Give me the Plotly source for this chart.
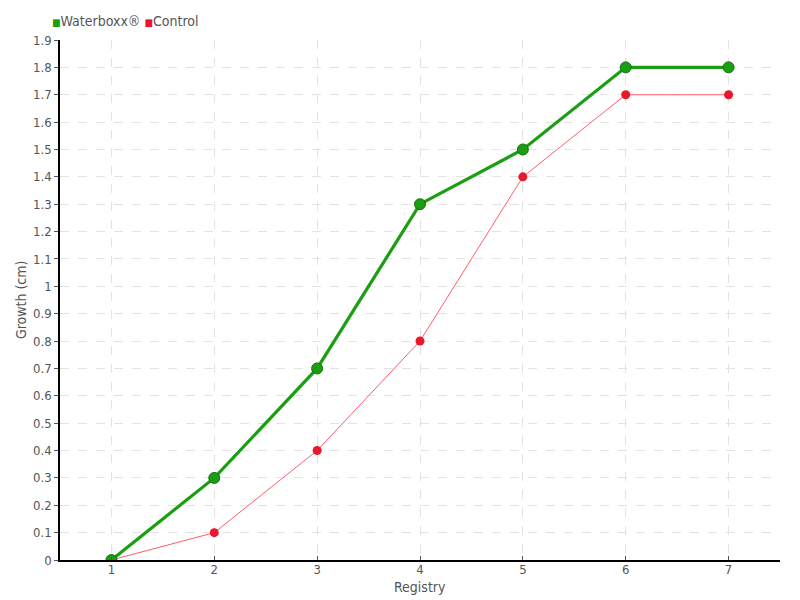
import plotly.graph_objects as go

registry = [1, 2, 3, 4, 5, 6, 7]
waterboxx = [0, 0.3, 0.7, 1.3, 1.5, 1.8, 1.8]
control = [0, 0.1, 0.4, 0.8, 1.4, 1.7, 1.7]
y_ticks = [round(i * 0.1, 1) for i in range(20)]
y_labels = [f"{v:g}" for v in y_ticks]

green = "#1a9e12"
red = "#e8192c"
grey = "#555555"
font = "Liberation Sans Narrow, DejaVu Sans Condensed, sans-serif"

fig = go.Figure()

fig.add_trace(go.Scatter(
    x=registry, y=control, mode="lines+markers", name="Control",
    line=dict(color="#ff5c6c", width=1),
    marker=dict(color=red, size=9),
))
fig.add_trace(go.Scatter(
    x=registry, y=waterboxx, mode="lines+markers", name="Waterboxx®",
    line=dict(color=green, width=3.2),
    marker=dict(color=green, size=11, line=dict(color="#17700f", width=1)),
))

# legend drawn as a single line of text with coloured squares
fig.add_annotation(
    xref="paper", yref="paper", x=-0.014, y=1.037, xanchor="left", yanchor="middle",
    showarrow=False, font=dict(family=font, size=14, color=grey),
    text=(f"<span style='color:{green};font-size:10px'>■</span>Waterboxx® "
          f"<span style='color:{red};font-size:10px'>■</span>Control"),
)
# axis titles
fig.add_annotation(
    xref="paper", yref="paper", x=0.5, y=-0.052, xanchor="center", yanchor="middle",
    showarrow=False, text="Registry", font=dict(family=font, size=14, color=grey),
)
fig.add_annotation(
    xref="paper", yref="paper", x=-0.054, y=0.5, xanchor="center", yanchor="middle",
    showarrow=False, text="Growth (cm)", textangle=-90,
    font=dict(family=font, size=14, color=grey),
)

fig.update_layout(
    width=800, height=600, showlegend=False,
    margin=dict(l=52, r=28, t=32, b=48, autoexpand=False),
    plot_bgcolor="white", paper_bgcolor="white",
    font=dict(family=font, size=13, color=grey),
    xaxis=dict(
        range=[0.5, 7.5], tickvals=registry, showline=True, linecolor="black",
        linewidth=1.5, ticks="inside", ticklen=4, tickcolor=grey,
        showgrid=True, gridcolor="#e3e3e3", griddash="dash", zeroline=False,
        automargin=False, ticklabelstandoff=-3,
    ),
    yaxis=dict(
        range=[0, 1.9], tickvals=y_ticks, ticktext=y_labels, showline=True,
        linecolor="black", linewidth=1.5, ticks="outside", ticklen=4,
        tickcolor=grey, showgrid=True, gridcolor="#e3e3e3", griddash="dash",
        zeroline=False, automargin=False,
    ),
)

fig.write_html("out.html")
